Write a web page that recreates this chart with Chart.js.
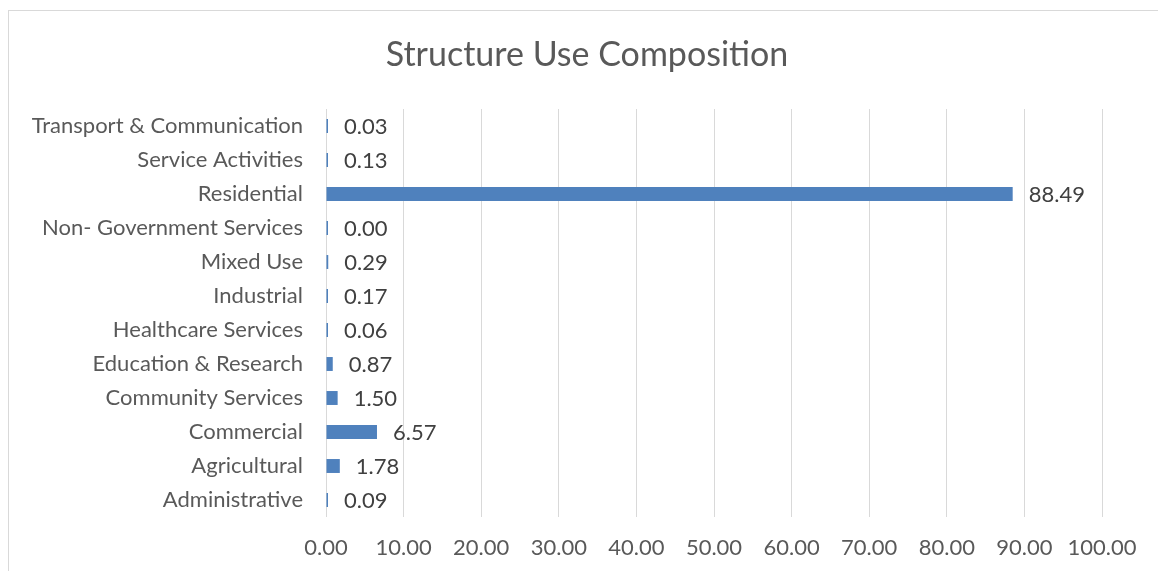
<!DOCTYPE html>
<html><head><meta charset="utf-8">
<script src="https://cdn.jsdelivr.net/npm/chart.js@4/dist/chart.umd.min.js"></script>
<style>html,body{margin:0;padding:0;background:#fff}#wrap{width:1158px;height:571px}</style>
</head><body><div id="wrap"><canvas id="c" width="1158" height="571"></canvas></div>
<script>
const categories = ["Transport & Communication","Service Activities","Residential","Non- Government Services","Mixed Use","Industrial","Healthcare Services","Education & Research","Community Services","Commercial","Agricultural","Administrative"];
const values = [0.03,0.13,88.49,0.00,0.29,0.17,0.06,0.87,1.50,6.57,1.78,0.09];
const xTicks = [0,10,20,30,40,50,60,70,80,90,100];
const chartTitle = "Structure Use Composition";
const FONT = "Lato, 'Open Sans', sans-serif";

const frame = {id:'frame', beforeDraw(ch){const c=ch.ctx;c.save();c.strokeStyle='#d9d9d9';c.lineWidth=1;c.strokeRect(8.5,10.5,1160,580);
  c.font="34px "+FONT;c.fillStyle='#595959';c.textAlign='center';c.textBaseline='middle';c.fillText(chartTitle,587,55);c.restore();}};
const labels = {id:'vals', afterDatasetsDraw(ch){const c=ch.ctx;const m=ch.getDatasetMeta(0);c.save();c.font="22px "+FONT;c.fillStyle='#404040';c.textAlign='left';c.textBaseline='middle';
 m.data.forEach((b,i)=>{const x=Math.max(b.x,b.base+1.5);c.fillText(values[i].toFixed(2),x+16,b.y+1);});c.restore();}};

new Chart(document.getElementById('c'),{
 type:'bar',
 data:{labels:categories,datasets:[{data:values,backgroundColor:'#4f81bd',barPercentage:0.82,categoryPercentage:0.5,minBarLength:2}]},
 options:{indexAxis:'y',responsive:false,animation:false,devicePixelRatio:1,
  layout:{padding:{left:0,right:56,top:109,bottom:0}},
  plugins:{legend:{display:false},tooltip:{enabled:false},title:{display:false}},
  scales:{
   x:{min:0,max:100,afterBuildTicks(a){a.ticks=xTicks.map(v=>({value:v}));},
      afterFit(a){a.height=54;},
      grid:{color:'#d9d9d9',drawTicks:false},border:{display:false},
      ticks:{padding:18,color:'#595959',font:{family:FONT,size:22},callback:v=>Number(v).toFixed(2)}},
   y:{afterFit(a){a.width=326;},grid:{display:false,drawTicks:false},border:{display:false},
      ticks:{padding:23,color:'#595959',font:{family:FONT,size:22}}}
  }},
 plugins:[frame,labels]
});
</script></body></html>
